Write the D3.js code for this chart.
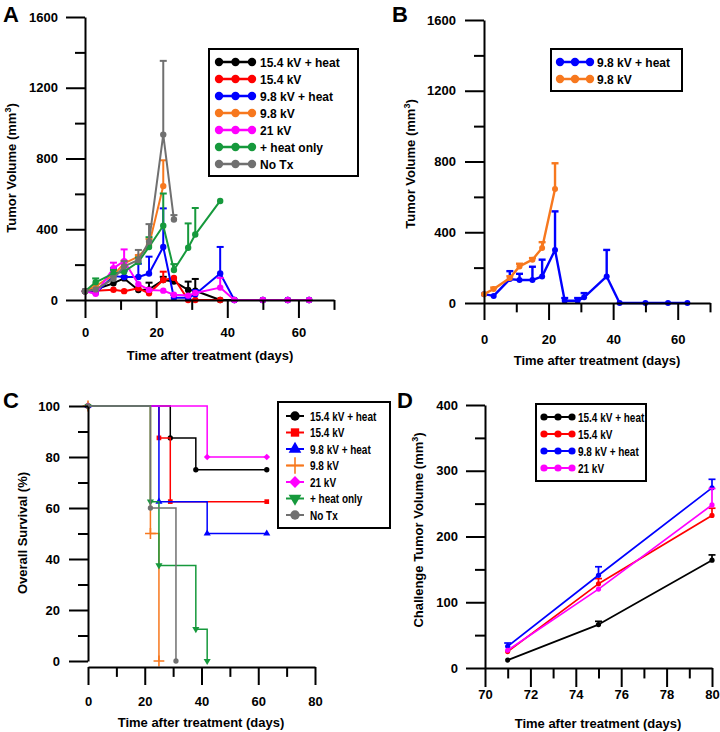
<!DOCTYPE html>
<html><head><meta charset="utf-8">
<script src="https://cdn.jsdelivr.net/npm/d3@7"></script>
<style>
body{margin:0;background:#fff}
svg{display:block}
</style></head><body>
<svg id="chart" width="720" height="732"></svg>
<script>
// ---------- DATA ----------
// Panels A & B: tumor volume (mm^3) vs days
const daysA = [0,3,8,11,15,18,22,25,29,31,38,42,50,57,63];
const seriesNamesA = ["15.4 kV + heat","15.4 kV","9.8 kV + heat","9.8 kV","21 kV","+ heat only","No Tx"];
const volBlack   = [50,60,95,122,56,60,113,105,57,52,0,0,0,0,0];
const errBlack   = [0,0,0,12,0,38,18,0,47,67,0,0,0,0,0];
const volRed     = [50,52,58,50,66,38,113,125,0,0,0,null,null,null,null];
const errRed     = [0,0,0,0,0,0,47,0,0,0,0,null,null,null,null];
const volBlue    = [50,40,135,130,130,150,300,13,13,32,150,0,0,0,0];
const errBlue    = [0,0,45,35,75,95,218,15,15,24,150,0,0,0,0];
const volOrange  = [50,79,141,207,245,311,644,null,null,null,null,null,null,null,null];
const errOrange  = [0,8,10,15,9,33,146,null,null,null,null,null,null,null,null];
const volMagenta = [50,35,180,220,90,57,53,30,25,40,70,0,0,0,0];
const errMagenta = [0,0,31,66,0,0,0,0,0,0,55,0,0,0,0];
const volGreen   = [50,100,150,160,215,300,420,170,295,370,560,null,null,null,null];
const errGreen   = [0,22,20,0,25,55,182,33,138,150,0,null,null,null,null];
const volGray    = [50,60,120,190,226,330,935,455,null,null,null,null,null,null,null];
const errGray    = [0,0,15,30,57,99,417,25,null,null,null,null,null,null,null];
const ticksVolMajor = [0,400,800,1200,1600];
const ticksVolMinor = [200,600,1000,1400];
const ticksDayMajor = [0,20,40,60];
const ticksDayMinor = [10,30,50,70];

// Panel C: Kaplan-Meier overall survival (%)
const kmBlackT   = [0,29,38,63],    kmBlackS   = [100,87.5,75,75];
const kmRedT     = [0,25,29,63],    kmRedS     = [100,87.5,62.5,62.5];
const kmBlueT    = [0,25,42,63],    kmBlueS    = [100,62.5,50,50];
const kmOrangeT  = [0,22,25],       kmOrangeS  = [100,50,0];
const kmMagentaT = [0,42,63],       kmMagentaS = [100,80,80];
const kmGreenT   = [0,22,25,38,42], kmGreenS   = [100,62.5,37.5,12.5,0];
const kmGrayT    = [0,22,31],       kmGrayS    = [100,60,0];
const ticksSurvMajor = [0,20,40,60,80,100];
const ticksSurvMinor = [10,30,50,70,90];
const ticksDayCMajor = [0,20,40,60,80];
const ticksDayCMinor = [10,30,50,70];

// Panel D: challenge tumor volume
const daysD = [71,75,80];
const seriesNamesD = ["15.4 kV + heat","15.4 kV","9.8 kV + heat","21 kV"];
const chBlack = [12,66,164],   chBlackErr = [0,5,8];
const chRed = [25,128,232],    chRedErr = [0,8,11];
const chBlue = [33,141,274],   chBlueErr = [5,13,13];
const chMagenta = [27,120,248],chMagentaErr = [0,0,25];
const ticksDMajorY = [0,100,200,300,400];
const ticksDMinorY = [50,150,250,350];
const ticksDMajorX = [70,72,74,76,78,80];
const ticksDMinorX = [71,73,75,77,79];

// ---------- STYLE ----------
const FONT = '"Liberation Sans", Arial, sans-serif';
const C = {black:"#000000", red:"#ff0000", blue:"#0000ff", orange:"#f7781e", magenta:"#ff00ff", green:"#16993c", gray:"#707070"};
const colorsA = [C.black,C.red,C.blue,C.orange,C.magenta,C.green,C.gray];
const fmt = d3.format("d");

const svg = d3.select("#chart").attr("font-family",FONT).attr("font-weight","bold");

function styleAxis(g){
  g.attr("font-family",FONT).attr("font-size",13).attr("font-weight","bold");
  g.selectAll("path,line").attr("stroke","#000").attr("stroke-width",2);
  g.selectAll("text").attr("fill","#000");
}
function leftAxis(y, xpos, major, minor, pad){
  const a = svg.append("g").attr("transform",`translate(${xpos},0)`)
    .call(d3.axisLeft(y).tickValues(major).tickFormat(fmt).tickSize(19).tickSizeOuter(0).tickPadding(pad));
  styleAxis(a);
  const b = svg.append("g").attr("transform",`translate(${xpos},0)`)
    .call(d3.axisLeft(y).tickValues(minor).tickSize(10).tickSizeOuter(0).tickFormat(""));
  b.select(".domain").remove(); styleAxis(b);
}
function bottomAxis(x, ypos, major, minor, len, pad){
  const a = svg.append("g").attr("transform",`translate(0,${ypos})`)
    .call(d3.axisBottom(x).tickValues(major).tickFormat(fmt).tickSize(len).tickSizeOuter(0).tickPadding(pad));
  styleAxis(a);
  const b = svg.append("g").attr("transform",`translate(0,${ypos})`)
    .call(d3.axisBottom(x).tickValues(minor).tickSize(len*0.55).tickSizeOuter(0).tickFormat(""));
  b.select(".domain").remove(); styleAxis(b);
}
function xTitle(txt, cx, by){
  svg.append("text").attr("x",cx).attr("y",by).attr("text-anchor","middle")
    .attr("font-size",13).text(txt);
}
function yTitleMM(txt, bx, cy){
  const t = svg.append("text").attr("transform",`translate(${bx},${cy}) rotate(-90)`)
    .attr("text-anchor","middle").attr("font-size",13);
  t.append("tspan").text(txt + " (mm");
  t.append("tspan").attr("dy",-5).attr("font-size",9).text("3");
  t.append("tspan").attr("dy",5).text(")");
}
function panelLetter(l, x, y){
  svg.append("text").attr("x",x).attr("y",y).attr("font-size",22).text(l);
}
// narrow (condensed) bold text
function narrowText(g, x, y, txt){
  g.append("text").attr("transform",`translate(${x},${y}) scale(0.8,1)`)
    .attr("font-size",12.5).text(txt);
}

// ---------- line panels ----------
function drawSeries(x, y, days, vals, errs, color, lw, r, capW){
  const pts = days.map((d,i)=>({t:d, v:vals[i], e:errs[i]})).filter(p=>p.v!=null);
  const g = svg.append("g");
  g.append("path").datum(pts)
    .attr("d", d3.line().x(p=>x(p.t)).y(p=>y(p.v)))
    .attr("fill","none").attr("stroke",color).attr("stroke-width",lw).attr("stroke-linejoin","round");
  pts.filter(p=>p.e>0).forEach(p=>{
    g.append("line").attr("x1",x(p.t)).attr("x2",x(p.t)).attr("y1",y(p.v)).attr("y2",y(p.v+p.e))
      .attr("stroke",color).attr("stroke-width",lw);
    g.append("line").attr("x1",x(p.t)-capW).attr("x2",x(p.t)+capW).attr("y1",y(p.v+p.e)).attr("y2",y(p.v+p.e))
      .attr("stroke",color).attr("stroke-width",lw);
  });
  g.selectAll("circle").data(pts).join("circle")
    .attr("cx",p=>x(p.t)).attr("cy",p=>y(p.v)).attr("r",r).attr("fill",color);
}
function lineLegend(x0, y0, w, h, names, colors, rows, lx1, lx2, tx, narrow, lw, r){
  svg.append("rect").attr("x",x0).attr("y",y0).attr("width",w).attr("height",h)
    .attr("fill","#fff").attr("stroke","#000").attr("stroke-width",2);
  names.forEach((n,i)=>{
    const yy = rows[i];
    const g = svg.append("g");
    g.append("line").attr("x1",lx1).attr("x2",lx2).attr("y1",yy).attr("y2",yy)
      .attr("stroke",colors[i]).attr("stroke-width",lw);
    [lx1,(lx1+lx2)/2,lx2].forEach(cx=>g.append("circle").attr("cx",cx).attr("cy",yy).attr("r",r).attr("fill",colors[i]));
    if(narrow) narrowText(g, tx, yy+4.5, n);
    else g.append("text").attr("x",tx).attr("y",yy+4.5).attr("font-size",12).text(n);
  });
}

const volA = [volBlack,volRed,volBlue,volOrange,volMagenta,volGreen,volGray];
const errA = [errBlack,errRed,errBlue,errOrange,errMagenta,errGreen,errGray];

// Panel A
{
  const x = d3.scaleLinear().domain([0,70]).range([85,334]);
  const y = d3.scaleLinear().domain([0,1600]).range([300,17]);
  volA.forEach((v,i)=>drawSeries(x,y,daysA,v,errA[i],colorsA[i],2,3.2,3.5));
  leftAxis(y, 85, ticksVolMajor, ticksVolMinor, 8);
  bottomAxis(x, 300, ticksDayMajor, ticksDayMinor, 18, 10);
  xTitle("Time after treatment (days)", 210, 360);
  yTitleMM("Tumor Volume", 16, 168);
  panelLetter("A", 3, 22);
  lineLegend(209,49,149,127,seriesNamesA,colorsA,[62,79,96,113,130,147,164],219,252,260,false,2.5,4.2);
}
// Panel B
{
  const x = d3.scaleLinear().domain([0,70]).range([484,710]);
  const y = d3.scaleLinear().domain([0,1600]).range([303,20]);
  drawSeries(x,y,daysA,volBlue,errBlue,C.blue,2.4,3,3.5);
  drawSeries(x,y,daysA,volOrange,errOrange,C.orange,2.4,3,3.5);
  leftAxis(y, 484, ticksVolMajor, ticksVolMinor, 9);
  bottomAxis(x, 303, ticksDayMajor, ticksDayMinor, 17, 15);
  xTitle("Time after treatment (days)", 597, 365);
  yTitleMM("Tumor Volume", 415, 164);
  panelLetter("B", 392, 22);
  lineLegend(551,49,131,42,["9.8 kV + heat","9.8 kV"],[C.blue,C.orange],[62,79],560,590,597,false,2.5,4.2);
}
// Panel C
{
  const x = d3.scaleLinear().domain([0,80]).range([88,315]);
  const y = d3.scaleLinear().domain([0,100]).range([661,406]);
  const km = [
    {n:"15.4 kV + heat", c:C.black, t:kmBlackT, s:kmBlackS, sym:d3.symbolCircle, rot:0},
    {n:"15.4 kV", c:C.red, t:kmRedT, s:kmRedS, sym:d3.symbolSquare, rot:0},
    {n:"9.8 kV + heat", c:C.blue, t:kmBlueT, s:kmBlueS, sym:d3.symbolTriangle, rot:0},
    {n:"9.8 kV", c:C.orange, t:kmOrangeT, s:kmOrangeS, sym:d3.symbolPlus, rot:0, stroke:true},
    {n:"21 kV", c:C.magenta, t:kmMagentaT, s:kmMagentaS, sym:d3.symbolSquare, rot:45},
    {n:"+ heat only", c:C.green, t:kmGreenT, s:kmGreenS, sym:d3.symbolTriangle, rot:180},
    {n:"No Tx", c:C.gray, t:kmGrayT, s:kmGrayS, sym:d3.symbolCircle, rot:0}
  ];
  const line = d3.line().x(p=>x(p[0])).y(p=>y(p[1])).curve(d3.curveStepAfter);
  function mark(g, cx, cy, k, size){
    const p = g.append("path").attr("d", d3.symbol(k.sym, size)())
      .attr("transform",`translate(${cx},${cy}) rotate(${k.rot})`);
    if(k.stroke) p.attr("fill","none").attr("stroke",k.c).attr("stroke-width",1.6);
    else p.attr("fill",k.c);
  }
  km.forEach(k=>{
    const pts = k.t.map((t,i)=>[t,k.s[i]]);
    const g = svg.append("g");
    g.append("path").datum(pts).attr("d",line).attr("fill","none").attr("stroke",k.c).attr("stroke-width",1.5);
    pts.forEach(p=>mark(g, x(p[0]), y(p[1]), k, k.stroke?40:22));
  });
  leftAxis(y, 88, ticksSurvMajor, ticksSurvMinor, 9);
  bottomAxis(x, 667, ticksDayCMajor, ticksDayCMinor, 18, 12);
  xTitle("Time after treatment (days)", 201, 727);
  svg.append("text").attr("transform","translate(27,533) rotate(-90)").attr("text-anchor","middle")
    .attr("font-size",13).text("Overall Survival (%)");
  panelLetter("C", 3, 408);
  // legend
  svg.append("rect").attr("x",278).attr("y",402).attr("width",112).attr("height",126)
    .attr("fill","#fff").attr("stroke","#000").attr("stroke-width",2);
  km.forEach((k,i)=>{
    const yy = 416 + i*16.5;
    const g = svg.append("g");
    g.append("line").attr("x1",286).attr("x2",304).attr("y1",yy).attr("y2",yy).attr("stroke",k.c).attr("stroke-width",2);
    mark(g, 295, yy, k, k.stroke?90:70);
    narrowText(g, 310, yy+4.5, k.n);
  });
}
// Panel D
{
  const x = d3.scaleLinear().domain([70,80]).range([485,712]);
  const y = d3.scaleLinear().domain([0,400]).range([668,405]);
  const colorsD = [C.black,C.red,C.blue,C.magenta];
  const valsD = [chBlack,chRed,chBlue,chMagenta];
  const errsD = [chBlackErr,chRedErr,chBlueErr,chMagentaErr];
  valsD.forEach((v,i)=>drawSeries(x,y,daysD,v,errsD[i],colorsD[i],1.7,2.6,3.5));
  leftAxis(y, 485, ticksDMajorY, ticksDMinorY, 8);
  bottomAxis(x, 668, ticksDMajorX, ticksDMinorX, 19, 3);
  xTitle("Time after treatment (days)", 598, 728);
  yTitleMM("Challenge Tumor Volume", 423, 530);
  panelLetter("D", 397, 408);
  lineLegend(536,404,110,77,seriesNamesD,colorsD,[417,434,451,468],544,572,578,true,2,3.6);
}
</script>
</body></html>
